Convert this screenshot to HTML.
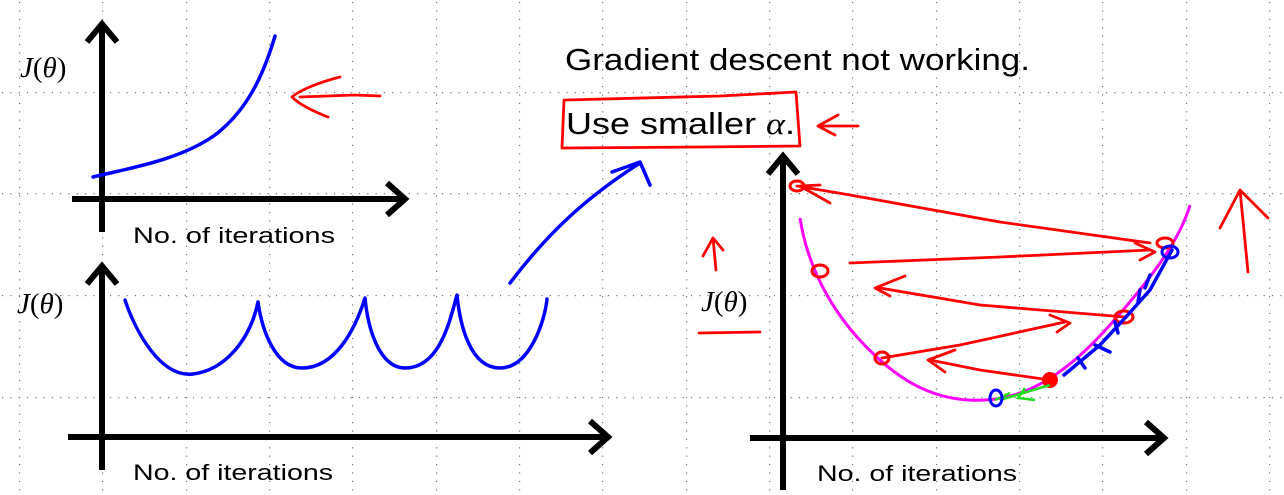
<!DOCTYPE html>
<html><head><meta charset="utf-8"><style>
html,body{margin:0;padding:0;background:#fff;width:1284px;height:495px;overflow:hidden}
svg{display:block}
.ax{stroke:#000;stroke-width:6;fill:none;stroke-linecap:butt}
.hd{stroke:#000;stroke-width:6;fill:none;stroke-linejoin:miter}
.b{stroke:#0000ff;stroke-width:3.5;fill:none;stroke-linecap:round;stroke-linejoin:round}
.r{stroke:#ff0000;stroke-width:2.8;fill:none;stroke-linecap:round;stroke-linejoin:round}
.t{font-family:"Liberation Sans",sans-serif;fill:#000}
.j{font-family:"Liberation Serif",serif;fill:#000;font-size:29px}
</style></head><body>
<svg width="1284" height="495" viewBox="0 0 1284 495">
<g id="grid" fill="#777"></g>

<g>
<path class="ax" d="M102 232V24"/>
<path class="hd" d="M87 42L102 24L117 42"/>
<path class="ax" d="M72 199H404"/>
<path class="hd" d="M387 183L405 199L387 215"/>
<text class="j" x="20" y="77"><tspan font-style="italic">J</tspan>(<tspan font-style="italic">θ</tspan>)</text>
<text class="t" x="133" y="243" font-size="22" textLength="202" lengthAdjust="spacingAndGlyphs">No. of iterations</text>
<path class="b" d="M93 177C130 168 180 160 215 135C245 112 262 80 275 36"/>
<path class="r" d="M380 96L355 95L300 97M340 77C320 82 300 90 292 97C300 105 315 112 328 117"/>
</g>

<g>
<path class="ax" d="M102 470V266"/>
<path class="hd" d="M87 284L102 266L117 284"/>
<path class="ax" d="M68 437H606"/>
<path class="hd" d="M590 421L608 437L590 453"/>
<text class="j" x="17" y="313"><tspan font-style="italic">J</tspan>(<tspan font-style="italic">θ</tspan>)</text>
<text class="t" x="133" y="480" font-size="22" textLength="200" lengthAdjust="spacingAndGlyphs">No. of iterations</text>
<path class="b" d="M125 300C135 330 160 378 193 374C225 370 250 340 258 302C262 330 275 368 302 368C335 368 355 330 365 298C368 330 380 368 405 368C440 368 450 320 457 295C460 325 470 368 500 368C530 368 545 320 547 299"/>
<path class="b" d="M510 283C550 230 590 195 640 163M612 172L640 162L650 185"/>
</g>

<text class="t" x="565" y="70" font-size="31" textLength="465" lengthAdjust="spacingAndGlyphs">Gradient descent not working.</text>
<text class="t" x="566" y="134" font-size="31" textLength="229" lengthAdjust="spacingAndGlyphs">Use smaller <tspan font-family="Liberation Serif" font-style="italic">α</tspan>.</text>
<path class="r" d="M566 100L720 96L796 92L800 146L700 147L562 148L564 100"/>
<path class="r" d="M858 126L820 126M838 115L818 126L835 135"/>

<g>
<path class="ax" d="M783 490V156"/>
<path class="hd" d="M768 174L783 156L798 174"/>
<path class="ax" d="M750 438H1162"/>
<path class="hd" d="M1146 422L1164 438L1146 454"/>
<text class="j" x="701" y="311"><tspan font-style="italic">J</tspan>(<tspan font-style="italic">θ</tspan>)</text>
<text class="t" x="817" y="481" font-size="22" textLength="200" lengthAdjust="spacingAndGlyphs">No. of iterations</text>
<path class="r" d="M699 333L760 332M716 270L713 238L703 256M713 238L723 250"/>
<path class="r" d="M1248 272L1240 190L1220 228M1240 190L1268 218"/>
<path d="M800 218C808 270 835 320 880 360C915 392 950 402 985 400C1030 398 1070 370 1110 325C1150 280 1180 240 1190 205" stroke="#ff00ff" stroke-width="3" fill="none"/>
<path class="r" d="M797 186L850 195L1000 222L1150 243M820 185L800 186L830 203M850 263L1000 257L1150 250M1135 243L1155 252L1140 260M1125 317L980 305L880 288M905 276L875 288L890 296M882 358L960 345L1065 322M1050 315L1070 323L1057 332M1050 380L980 370L930 360M955 350L928 360L945 372"/>
<g fill="none" stroke="#ff0000" stroke-width="3">
<ellipse cx="797" cy="186" rx="7" ry="5"/><ellipse cx="820" cy="271" rx="8" ry="6"/><ellipse cx="882" cy="358" rx="7" ry="6"/><ellipse cx="1124" cy="317" rx="9" ry="6"/><ellipse cx="1165" cy="243" rx="8" ry="5"/>
</g>
<circle cx="1050" cy="380" r="8" fill="#ff0000"/>
<path class="b" d="M1172 250L1150 290L1125 318L1100 345L1064 375M1150 275L1145 288M1140 290L1138 302M1115 322L1118 333M1095 345L1110 352M1078 358L1085 368"/>
<ellipse cx="1170" cy="252" rx="8" ry="6" fill="none" stroke="#0000ff" stroke-width="3"/>
<path d="M1050 385L1000 400M1025 388L1018 398L1035 400M1010 393L995 400" stroke="#22dd22" stroke-width="2.5" fill="none"/>
<ellipse cx="996" cy="398" rx="6" ry="8" fill="none" stroke="#0000ff" stroke-width="3"/>
</g>
</svg>
<script>
const g=document.getElementById('grid');
const rows=[92,193,295,397];
const cols=[19,102,186,269,352,436,519,602,686,769,852,936,1019,1102,1186,1269];
const ns='http://www.w3.org/2000/svg';
rows.forEach(y=>{for(let x=2;x<1284;x+=8.3){const c=document.createElementNS(ns,'rect');c.setAttribute('x',x.toFixed(1));c.setAttribute('y',y);c.setAttribute('width',1.2);c.setAttribute('height',1.2);g.appendChild(c);}});
cols.forEach(x=>{for(let y=2;y<495;y+=8.4){const c=document.createElementNS(ns,'rect');c.setAttribute('x',x);c.setAttribute('y',y.toFixed(1));c.setAttribute('width',1.2);c.setAttribute('height',1.2);g.appendChild(c);}});
</script>
</body></html>
